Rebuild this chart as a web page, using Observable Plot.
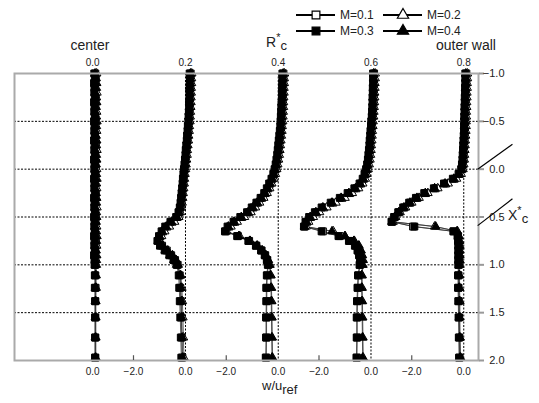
<!DOCTYPE html>
<html><head><meta charset="utf-8">
<script src="https://cdn.jsdelivr.net/npm/d3@7"></script>
<script src="https://cdn.jsdelivr.net/npm/@observablehq/plot@0.6"></script>
<style>body{margin:0;background:#fff}svg{font-family:"Liberation Sans",Arial,sans-serif}</style>
</head><body><div id="chart"></div>
<script>
// ---- data ----
const profilesR = [0.0, 0.2, 0.4, 0.6, 0.8];          // R*_c of each profile
const machs = ["M=0.1", "M=0.2", "M=0.3", "M=0.4"];
const topTickLabels = ["0.0", "0.2", "0.4", "0.6", "0.8"];
const bottomTickValues = [0.0, -2.0];                   // w/u_ref ticks per profile
const rightTicks = [-1.0, -0.5, 0.0, 0.5, 1.0, 1.5, 2.0];
const gridXc = [-0.5, 0.0, 0.5, 1.0, 1.5];
const xc = [
 -1.00,-0.95,-0.90,-0.85,-0.80,-0.75,-0.70,-0.65,-0.60,-0.55,
 -0.50,-0.45,-0.40,-0.35,-0.30,-0.25,-0.20,-0.15,-0.10,-0.05,
  0.00, 0.05, 0.10, 0.15, 0.20, 0.25, 0.30, 0.35, 0.40, 0.45,
  0.50, 0.55, 0.60, 0.65, 0.70, 0.75, 0.80, 0.85, 0.90, 0.95,
  1.00, 1.11, 1.24, 1.38, 1.55, 1.76, 1.97];

const w_R00_M01 = [0.10,0.12,0.10,0.08,0.10,0.12,0.10,0.10,0.08,0.10, 0.12,0.10,0.10,0.08,0.10,0.12,0.10,0.10,0.08,0.10, 0.12,0.10,0.10,0.08,0.10,0.12,0.10,0.10,0.08,0.10, 0.12,0.10,0.10,0.08,0.10,0.12,0.10,0.10,0.08,0.10, 0.10,0.10,0.11,0.10,0.10,0.10,0.10];
const w_R00_M02 = [0.15,0.13,0.15,0.14,0.16,0.14,0.15,0.13,0.15,0.14, 0.16,0.14,0.15,0.13,0.15,0.14,0.16,0.14,0.15,0.13, 0.15,0.14,0.16,0.14,0.15,0.13,0.15,0.14,0.16,0.14, 0.15,0.13,0.15,0.14,0.16,0.14,0.15,0.13,0.15,0.14, 0.14,0.13,0.13,0.12,0.12,0.12,0.12];
const w_R00_M03 = [0.06,0.08,0.05,0.07,0.06,0.08,0.05,0.07,0.06,0.08, 0.05,0.07,0.06,0.08,0.05,0.07,0.06,0.08,0.05,0.07, 0.06,0.08,0.05,0.07,0.06,0.08,0.05,0.07,0.06,0.08, 0.05,0.07,0.06,0.08,0.05,0.07,0.06,0.08,0.05,0.07, 0.07,0.08,0.08,0.09,0.09,0.09,0.09];
const w_R00_M04 = [0.09,0.11,0.13,0.11,0.09,0.11,0.13,0.11,0.09,0.11, 0.13,0.11,0.09,0.11,0.13,0.11,0.09,0.11,0.13,0.11, 0.09,0.11,0.13,0.11,0.09,0.11,0.13,0.11,0.09,0.11, 0.13,0.11,0.09,0.11,0.13,0.11,0.09,0.11,0.13,0.11, 0.11,0.11,0.10,0.10,0.10,0.10,0.10];

const w_R02_M01 = [0.20,0.20,0.19,0.19,0.18,0.18,0.17,0.17,0.16,0.15, 0.14,0.12,0.11,0.09,0.08,0.06,0.04,0.03,0.01,-0.01, -0.03,-0.05,-0.07,-0.08,-0.10,-0.12,-0.14,-0.16,-0.19,-0.23, -0.30,-0.50,-0.70,-0.86,-0.96,-1.02,-0.90,-0.72,-0.55,-0.40, -0.30,-0.22,-0.20,-0.18,-0.16,-0.14,-0.12];
const w_R02_M02 = [0.24,0.23,0.23,0.22,0.22,0.21,0.21,0.20,0.19,0.18, 0.17,0.15,0.14,0.12,0.11,0.09,0.07,0.06,0.04,0.02, 0.00,-0.02,-0.04,-0.05,-0.07,-0.09,-0.11,-0.13,-0.16,-0.20, -0.26,-0.42,-0.62,-0.80,-0.92,-1.00,-0.94,-0.78,-0.60,-0.45, -0.34,-0.18,-0.14,-0.12,-0.10,-0.08,-0.06];
const w_R02_M03 = [0.16,0.17,0.16,0.16,0.15,0.15,0.14,0.14,0.13,0.12, 0.11,0.09,0.08,0.06,0.05,0.03,0.01,0.00,-0.02,-0.04, -0.06,-0.08,-0.10,-0.11,-0.13,-0.15,-0.17,-0.19,-0.22,-0.27, -0.36,-0.58,-0.78,-0.92,-1.02,-1.08,-0.98,-0.80,-0.62,-0.46, -0.34,-0.26,-0.24,-0.22,-0.20,-0.18,-0.16];
const w_R02_M04 = [0.19,0.18,0.18,0.17,0.17,0.16,0.16,0.15,0.14,0.13, 0.12,0.11,0.09,0.08,0.06,0.05,0.03,0.01,0.00,-0.02, -0.04,-0.06,-0.08,-0.10,-0.12,-0.13,-0.15,-0.18,-0.21,-0.25, -0.33,-0.54,-0.74,-0.90,-1.00,-1.05,-0.86,-0.68,-0.50,-0.36, -0.28,-0.20,-0.18,-0.16,-0.15,-0.13,-0.12];

const w_R04_M01 = [0.20,0.20,0.19,0.19,0.18,0.18,0.17,0.16,0.15,0.14, 0.13,0.12,0.10,0.08,0.06,0.04,0.02,0.00,-0.03,-0.06, -0.10,-0.15,-0.22,-0.30,-0.38,-0.48,-0.62,-0.78,-0.95,-1.12, -1.38,-1.65,-1.88,-2.02,-1.55,-1.12,-0.84,-0.64,-0.50,-0.42, -0.38,-0.42,-0.44,-0.44,-0.45,-0.45,-0.46];
const w_R04_M02 = [0.24,0.23,0.23,0.22,0.22,0.21,0.20,0.20,0.19,0.18, 0.17,0.15,0.14,0.12,0.10,0.08,0.06,0.04,0.01,-0.02, -0.06,-0.11,-0.17,-0.25,-0.33,-0.43,-0.56,-0.72,-0.88,-1.05, -1.30,-1.58,-1.82,-1.98,-1.48,-1.08,-0.80,-0.61,-0.47,-0.38, -0.32,-0.28,-0.26,-0.25,-0.24,-0.23,-0.22];
const w_R04_M03 = [0.16,0.16,0.15,0.15,0.14,0.14,0.13,0.12,0.11,0.10, 0.09,0.08,0.06,0.04,0.02,0.00,-0.02,-0.04,-0.07,-0.10, -0.14,-0.19,-0.26,-0.35,-0.44,-0.54,-0.68,-0.84,-1.02,-1.20, -1.46,-1.72,-1.95,-2.05,-1.58,-1.15,-0.86,-0.66,-0.52,-0.44, -0.40,-0.44,-0.46,-0.46,-0.47,-0.47,-0.48];
const w_R04_M04 = [0.19,0.18,0.18,0.17,0.17,0.16,0.15,0.15,0.14,0.13, 0.12,0.10,0.09,0.07,0.05,0.03,0.01,-0.02,-0.05,-0.08, -0.12,-0.17,-0.24,-0.32,-0.41,-0.51,-0.65,-0.81,-0.98,-1.16, -1.42,-1.70,-1.92,-2.02,-1.52,-1.10,-0.82,-0.63,-0.49,-0.40, -0.34,-0.30,-0.28,-0.27,-0.26,-0.25,-0.24];

const w_R06_M01 = [0.12,0.12,0.12,0.11,0.11,0.10,0.10,0.09,0.08,0.06, 0.04,0.03,0.02,0.00,-0.01,-0.02,-0.04,-0.06,-0.08,-0.11, -0.15,-0.20,-0.27,-0.38,-0.56,-0.80,-1.10,-1.45,-1.80,-2.08, -2.30,-2.45,-2.55,-1.85,-1.20,-0.82,-0.58,-0.50,-0.44,-0.40, -0.42,-0.48,-0.50,-0.52,-0.53,-0.53,-0.54];
const w_R06_M02 = [0.16,0.16,0.15,0.15,0.14,0.14,0.13,0.12,0.11,0.10, 0.08,0.07,0.05,0.04,0.03,0.01,0.00,-0.02,-0.04,-0.07, -0.11,-0.16,-0.22,-0.32,-0.48,-0.72,-1.00,-1.35,-1.70,-1.98, -2.22,-2.40,-2.50,-1.45,-1.00,-0.64,-0.46,-0.38,-0.33,-0.30, -0.31,-0.34,-0.34,-0.33,-0.32,-0.31,-0.30];
const w_R06_M03 = [0.08,0.08,0.08,0.07,0.07,0.06,0.06,0.05,0.04,0.03, 0.01,0.00,-0.02,-0.03,-0.05,-0.06,-0.08,-0.10,-0.12,-0.15, -0.19,-0.25,-0.32,-0.44,-0.64,-0.90,-1.20,-1.55,-1.90,-2.16, -2.38,-2.52,-2.58,-1.90,-1.25,-0.85,-0.62,-0.52,-0.46,-0.42, -0.44,-0.50,-0.52,-0.54,-0.55,-0.55,-0.56];
const w_R06_M04 = [0.10,0.10,0.10,0.09,0.09,0.08,0.08,0.07,0.06,0.05, 0.03,0.02,0.00,-0.01,-0.03,-0.04,-0.06,-0.08,-0.10,-0.13, -0.17,-0.22,-0.30,-0.42,-0.60,-0.85,-1.15,-1.50,-1.85,-2.12, -2.34,-2.48,-2.56,-1.50,-1.00,-0.66,-0.48,-0.40,-0.35,-0.32, -0.33,-0.36,-0.36,-0.35,-0.34,-0.33,-0.32];

const w_R08_M01 = [0.10,0.10,0.10,0.09,0.09,0.08,0.08,0.07,0.07,0.06, 0.06,0.05,0.05,0.04,0.03,0.02,0.01,0.00,-0.01,-0.03, -0.06,-0.15,-0.35,-0.68,-1.08,-1.45,-1.78,-2.05,-2.28,-2.48, -2.65,-2.75,-1.95,-0.38,-0.22,-0.20,-0.19,-0.19,-0.19,-0.19, -0.19,-0.20,-0.20,-0.19,-0.18,-0.17,-0.16];
const w_R08_M02 = [0.14,0.14,0.13,0.13,0.12,0.12,0.11,0.11,0.10,0.10, 0.09,0.09,0.08,0.07,0.06,0.05,0.04,0.03,0.02,0.00, -0.03,-0.10,-0.28,-0.60,-1.00,-1.38,-1.72,-2.00,-2.24,-2.45, -2.62,-2.72,-1.12,-0.24,-0.18,-0.16,-0.15,-0.15,-0.15,-0.15, -0.15,-0.16,-0.16,-0.15,-0.15,-0.14,-0.12];
const w_R08_M03 = [0.06,0.06,0.06,0.05,0.05,0.04,0.04,0.03,0.03,0.02, 0.02,0.01,0.01,0.00,-0.01,-0.02,-0.03,-0.04,-0.05,-0.07, -0.10,-0.20,-0.42,-0.76,-1.15,-1.52,-1.84,-2.10,-2.33,-2.52, -2.68,-2.78,-1.90,-0.40,-0.24,-0.22,-0.21,-0.21,-0.21,-0.21, -0.21,-0.22,-0.22,-0.21,-0.20,-0.19,-0.18];
const w_R08_M04 = [0.08,0.08,0.08,0.07,0.07,0.06,0.06,0.05,0.05,0.04, 0.04,0.03,0.03,0.02,0.01,0.00,-0.01,-0.02,-0.03,-0.05, -0.08,-0.17,-0.38,-0.72,-1.12,-1.48,-1.80,-2.07,-2.30,-2.50, -2.66,-2.76,-1.08,-0.26,-0.20,-0.18,-0.17,-0.17,-0.17,-0.17, -0.17,-0.18,-0.18,-0.17,-0.17,-0.16,-0.14];

// ---- build ----
const K = 0.05606; // R*_c units spanned by one unit of w/u_ref
const table = [
  [w_R00_M01, w_R00_M02, w_R00_M03, w_R00_M04],
  [w_R02_M01, w_R02_M02, w_R02_M03, w_R02_M04],
  [w_R04_M01, w_R04_M02, w_R04_M03, w_R04_M04],
  [w_R06_M01, w_R06_M02, w_R06_M03, w_R06_M04],
  [w_R08_M01, w_R08_M02, w_R08_M03, w_R08_M04]
];
const rows = [];
profilesR.forEach((R, i) => table[i].forEach((arr, j) => arr.forEach((w, k) =>
  rows.push({R, M: machs[j], xc: xc[k], w, pos: R + w * K, key: i + "-" + j}))));

const fmt = d3.format(".1f");
const bottomTicks = [];
profilesR.forEach((R, i) => bottomTickValues.forEach(v => {
  if (i === 0 && v !== 0) return;
  bottomTicks.push({pos: R + v * K, v, label: fmt(v)});
}));
const breakMarks = [
  {x1: 0.830, y1: 0.00, x2: 0.905, y2: -0.26},
  {x1: 0.830, y1: 0.59, x2: 0.905, y2: 0.31}
];
const markerStyles = [
  {symbol: "square", fill: "white", r: 3.9},
  {symbol: "triangle", fill: "white", r: 3.2},
  {symbol: "square", fill: "black", r: 3.9},
  {symbol: "triangle", fill: "black", r: 3.2}
];

const plot = Plot.plot({
  width: 539, height: 403,
  marginLeft: 14, marginRight: 61, marginTop: 73, marginBottom: 43,
  x: {domain: [-0.1687, 0.8318], axis: null},
  y: {domain: [-1, 2], reverse: true, axis: null},
  style: {fontFamily: "Liberation Sans, Arial, sans-serif", fontSize: "10px", color: "#222", background: "white"},
  marks: [
    Plot.ruleY(gridXc, {stroke: "#000", strokeWidth: 1, strokeDasharray: "2,1.5"}),
    Plot.ruleX(profilesR.slice(1), {stroke: "#000", strokeWidth: 1, strokeDasharray: "2,1.5"}),
    Plot.line(rows, {x: "pos", y: "xc", z: "key", stroke: "#333", strokeWidth: 0.8}),
    ...machs.map((m, j) => Plot.dot(rows.filter(d => d.M === m), {
      x: "pos", y: "xc", symbol: markerStyles[j].symbol, r: markerStyles[j].r,
      fill: markerStyles[j].fill, stroke: "#000", strokeWidth: 1
    })),
    Plot.frame({stroke: "#aaa", strokeWidth: 2}),
    Plot.axisY(rightTicks, {anchor: "right", tickSize: 5, stroke: "#999", strokeWidth: 2, tickFormat: () => ""}),
    Plot.text(rightTicks, {y: d => d, text: d => fmt(d), frameAnchor: "right", dx: 26, textAnchor: "end", fontSize: 11}),
    Plot.text(profilesR, {x: d => d, text: (d, i) => topTickLabels[i], frameAnchor: "top", dy: -10.5, lineAnchor: "middle", fontSize: 10}),
    Plot.text(bottomTicks, {x: "pos", text: "label", frameAnchor: "bottom", dy: 11.5, lineAnchor: "middle", fontSize: 10}),
    Plot.ruleX(bottomTicks.filter(d => d.v !== 0), {x: "pos", y1: () => 2, y2: () => 1.95, stroke: "#555", strokeWidth: 1.2}),
    Plot.link(breakMarks, {x1: "x1", y1: "y1", x2: "x2", y2: "y2", stroke: "#000", strokeWidth: 1.2})
  ]
});
document.getElementById("chart").append(plot);

// ---- titles & legend ----
const svg = d3.select(plot);
const g = svg.append("g").attr("fill", "#222");
function rich(x, y, anchor, size, parts) {
  const t = g.append("text").attr("x", x).attr("y", y).attr("text-anchor", anchor).attr("font-size", size);
  parts.forEach(p => t.append("tspan").attr("dy", p.dy || 0).attr("font-size", p.size || size).text(p.t));
}
rich(90, 50, "middle", 14, [{t: "center"}]);
rich(466, 50, "middle", 14, [{t: "outer wall"}]);
rich(266, 47, "start", 14, [{t: "R"}, {t: "*", dy: -6, size: 11}, {t: "c", dy: 9, size: 13}]);
rich(508, 220, "start", 14, [{t: "X"}, {t: "*", dy: -6, size: 11}, {t: "c", dy: 9, size: 13}]);
rich(262, 390, "start", 13, [{t: "w/u"}, {t: "ref", dy: 4}]);

const legendPos = [{x: 296, y: 15}, {x: 383, y: 15}, {x: 296, y: 31}, {x: 383, y: 31}];
machs.forEach((m, j) => {
  const p = legendPos[j], st = markerStyles[j];
  g.append("line").attr("x1", p.x).attr("x2", p.x + 39).attr("y1", p.y).attr("y2", p.y)
    .attr("stroke", "#000").attr("stroke-width", 1.8);
  const sym = st.symbol === "square" ? d3.symbolSquare : d3.symbolTriangle;
  g.append("path").attr("d", d3.symbol(sym, st.symbol === "square" ? 60 : 55)())
    .attr("transform", `translate(${p.x + 20},${p.y})`)
    .attr("fill", st.fill).attr("stroke", "#000").attr("stroke-width", 1.2);
  g.append("text").attr("x", p.x + 44).attr("y", p.y).attr("dy", "0.35em")
    .attr("text-anchor", "start").attr("font-size", 12).text(m);
});
</script></body></html>
